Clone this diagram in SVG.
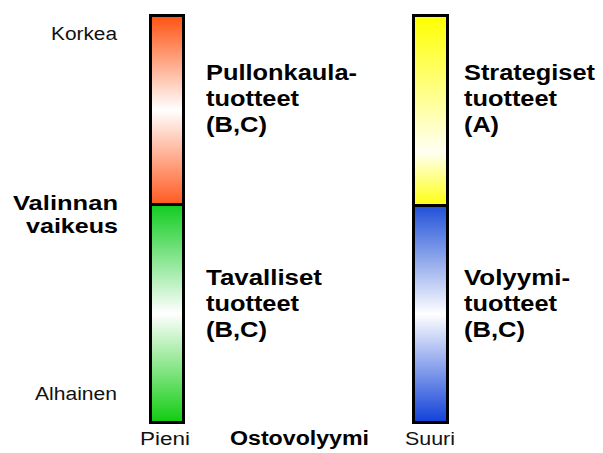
<svg xmlns="http://www.w3.org/2000/svg" width="603" height="453" viewBox="0 0 603 453">
<defs>
<linearGradient id="gOrange" x1="0" y1="0" x2="0" y2="1">
<stop offset="0" stop-color="#ff5210"/><stop offset="0.5" stop-color="#ffffff"/><stop offset="1" stop-color="#ff5a20"/>
</linearGradient>
<linearGradient id="gGreen" x1="0" y1="0" x2="0" y2="1">
<stop offset="0" stop-color="#10cc20"/><stop offset="0.5" stop-color="#ffffff"/><stop offset="1" stop-color="#10cc10"/>
</linearGradient>
<linearGradient id="gYellow" x1="0" y1="0" x2="0" y2="1">
<stop offset="0" stop-color="#ffff00"/><stop offset="0.72" stop-color="#fffff4"/><stop offset="1" stop-color="#ffff10"/>
</linearGradient>
<linearGradient id="gBlue" x1="0" y1="0" x2="0" y2="1">
<stop offset="0" stop-color="#2050d8"/><stop offset="0.5" stop-color="#ffffff"/><stop offset="1" stop-color="#1040d8"/>
</linearGradient>
</defs>
<style>
.frame{fill:none;stroke:#000;stroke-width:3}
.div{stroke:#000;stroke-width:3}
.r{font-family:"Liberation Sans",Arial,sans-serif;font-size:18px;fill:#111}
.b{font-family:"Liberation Sans",Arial,sans-serif;font-size:22px;font-weight:bold;fill:#000}
.bv{font-family:"Liberation Sans",Arial,sans-serif;font-size:20.5px;font-weight:bold;fill:#000}
.bs{font-family:"Liberation Sans",Arial,sans-serif;font-size:20px;font-weight:bold;fill:#000}
</style>
<rect width="603" height="453" fill="#fff"/>
<g id="bar-small">
<rect x="150.5" y="15.5" width="33" height="189" fill="url(#gOrange)"/>
<rect x="150.5" y="204.5" width="33" height="218" fill="url(#gGreen)"/>
<line class="div" x1="150.5" y1="204.5" x2="183.5" y2="204.5"/>
<rect class="frame" x="150.5" y="15.5" width="33" height="407"/>
</g>
<g id="bar-large">
<rect x="413.5" y="15.5" width="34" height="190" fill="url(#gYellow)"/>
<rect x="413.5" y="205.5" width="34" height="217" fill="url(#gBlue)"/>
<line class="div" x1="413.5" y1="205.5" x2="447.5" y2="205.5"/>
<rect class="frame" x="413.5" y="15.5" width="34" height="407"/>
</g>
<g id="axis-y">
<text class="r" x="51" y="40" textLength="66" lengthAdjust="spacingAndGlyphs">Korkea</text>
<text class="bv" x="13" y="210" textLength="105" lengthAdjust="spacingAndGlyphs">Valinnan</text>
<text class="bv" x="26" y="233" textLength="92" lengthAdjust="spacingAndGlyphs">vaikeus</text>
<text class="r" x="35" y="400" textLength="82" lengthAdjust="spacingAndGlyphs">Alhainen</text>
</g>
<g id="axis-x">
<text class="r" x="140" y="445" textLength="50" lengthAdjust="spacingAndGlyphs">Pieni</text>
<text class="bs" x="230" y="445" textLength="139" lengthAdjust="spacingAndGlyphs">Ostovolyymi</text>
<text class="r" x="405" y="445" textLength="50" lengthAdjust="spacingAndGlyphs">Suuri</text>
</g>
<g id="label-bottleneck">
<text class="b" x="206" y="80" textLength="151" lengthAdjust="spacingAndGlyphs">Pullonkaula-</text>
<text class="b" x="206" y="106" textLength="93" lengthAdjust="spacingAndGlyphs">tuotteet</text>
<text class="b" x="206" y="132" textLength="61" lengthAdjust="spacingAndGlyphs">(B,C)</text>
</g>
<g id="label-strategic">
<text class="b" x="464" y="80" textLength="131" lengthAdjust="spacingAndGlyphs">Strategiset</text>
<text class="b" x="464" y="106" textLength="93" lengthAdjust="spacingAndGlyphs">tuotteet</text>
<text class="b" x="464" y="132" textLength="35" lengthAdjust="spacingAndGlyphs">(A)</text>
</g>
<g id="label-routine">
<text class="b" x="206" y="285" textLength="116" lengthAdjust="spacingAndGlyphs">Tavalliset</text>
<text class="b" x="206" y="311" textLength="93" lengthAdjust="spacingAndGlyphs">tuotteet</text>
<text class="b" x="206" y="337" textLength="61" lengthAdjust="spacingAndGlyphs">(B,C)</text>
</g>
<g id="label-volume">
<text class="b" x="464" y="285" textLength="106" lengthAdjust="spacingAndGlyphs">Volyymi-</text>
<text class="b" x="464" y="311" textLength="93" lengthAdjust="spacingAndGlyphs">tuotteet</text>
<text class="b" x="464" y="337" textLength="61" lengthAdjust="spacingAndGlyphs">(B,C)</text>
</g>
</svg>
